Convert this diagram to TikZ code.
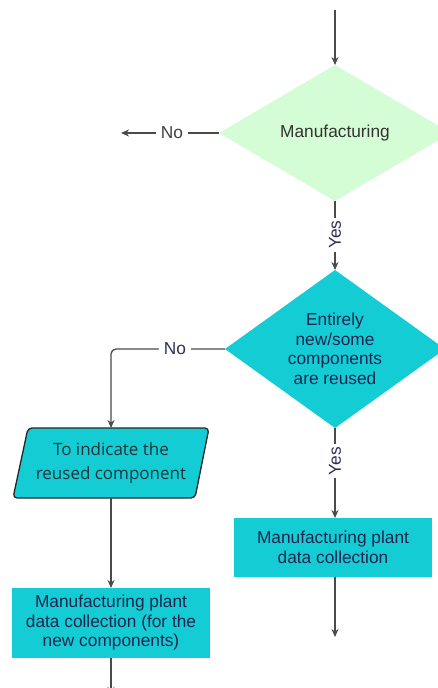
\documentclass[tikz,border=0pt]{standalone}
\usepackage{fontspec}
\setmainfont{Liberation Sans}
\newfontfamily\osans{Open Sans}
\usetikzlibrary{shapes.geometric,arrows.meta}
\definecolor{cyanbox}{HTML}{14CDD4}
\definecolor{mint}{HTML}{D5FDD5}
\definecolor{linec}{HTML}{4A4A4A}
\definecolor{navy}{HTML}{1E2550}
\definecolor{lblc}{HTML}{2F2F5A}
\definecolor{ptext}{HTML}{20343C}
\begin{document}
\begin{tikzpicture}[x=1pt,y=-1pt,
  fnt/.style={font=\fontsize{17.3}{19.5}\selectfont},
  dia/.style={diamond, inner sep=0pt, outer sep=0pt, draw=none},
  txt/.style={fnt, align=center, inner sep=0pt},
  box/.style={rectangle, fill=cyanbox, draw=none, inner sep=0pt, outer sep=0pt, fnt, align=center, text=navy},
  ln/.style={draw=linec, line width=1.3pt},
  arr/.style={ln, -{Stealth[length=8pt,width=7pt]}},
  lblno/.style={fnt, fill=white, text=lblc, inner xsep=5pt, inner ysep=2pt},
  lblyes/.style={fnt, fill=white, text=lblc, inner xsep=3pt, inner ysep=2pt, rotate=90},
]
\useasboundingbox (0,0) rectangle (438,688);
\clip (0,0) rectangle (438,688);

% decision 1
\node[dia, fill=mint, minimum width=232pt, minimum height=136pt] (d1) at (335,133) {};
\node[txt, text=black!80] (d1t) at (d1.center) {Manufacturing};

% decision 2
\node[dia, fill=cyanbox, minimum width=220pt, minimum height=158pt] (d2) at (335,349) {};
\node[txt, text=navy] (d2t) at (335,349) {Entirely\\new/some\\components\\are reused};

% parallelogram
\draw[draw=black!85, line width=1.3pt, fill=cyanbox, rounded corners=4pt]
  (28,428) -- (209,428) -- (195,498) -- (13,498) -- cycle;
\node[rectangle, minimum width=180pt, minimum height=70pt, inner sep=0pt, outer sep=0pt,
  align=center, text=ptext, font=\osans\fontsize{17}{24}\selectfont] (p) at (111,463)
  {To indicate the\\reused component};

% boxes
\node[box, minimum width=198pt, minimum height=70pt] (b1) at (111,623)
  {Manufacturing plant\\data collection (for the\\new components)};
\node[box, minimum width=198pt, minimum height=59pt] (b2) at (333,547.5)
  {Manufacturing plant\\data collection};

% free ends
\coordinate (top) at (335,10);
\coordinate (n1end) at (121,133);
\coordinate (b1end) at (111,695);
\coordinate (b2end) at (335,637);

% connectors
\draw[arr] (top) -- (d1.north);
\draw[arr] (d1.west) -- node[lblno, text=black!75, pos=0.48] {No} (n1end);
\draw[arr] (d1.south) -- node[lblyes, pos=0.49] {Yes} (d2.north);
\draw[arr, rounded corners=5pt] (d2.west) -- node[lblno, pos=0.44] {No} (d2.west -| p.north) -- (p.north);
\draw[arr] (p.south) -- (b1.north);
\draw[arr] (b1.south) -- (b1end);
\draw[arr] (d2.south) -- node[lblyes, pos=0.37] {Yes} (d2.south |- b2.north);
\draw[arr] (d2.south |- b2.south) -- (b2end);
\end{tikzpicture}
\end{document}
